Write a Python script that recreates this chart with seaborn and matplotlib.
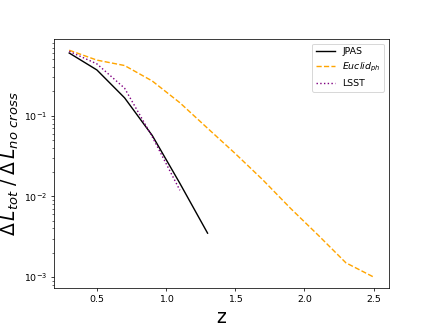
import numpy as np
import seaborn as sns
import matplotlib.pyplot as plt

# redshift bins
z_jpas = [0.3, 0.5, 0.7, 0.9, 1.1, 1.3]
z_euclid = [0.3, 0.5, 0.7, 0.9, 1.1, 1.3, 1.5, 1.7, 1.9, 2.1, 2.3, 2.5]
z_lsst = [0.3, 0.5, 0.7, 0.9, 1.1]

# ratio dL_tot / dL_no_cross
jpas = [0.60, 0.37, 0.167, 0.057, 0.0145, 0.0035]
euclid = [0.65, 0.49, 0.42, 0.27, 0.145, 0.07, 0.034, 0.016, 0.0071, 0.0033, 0.0015, 0.001]
lsst = [0.63, 0.44, 0.22, 0.055, 0.0119]

fig, ax = plt.subplots(figsize=(6.4, 4.8), dpi=67.5)

sns.lineplot(x=z_jpas, y=jpas, color="black", label="JPAS", ax=ax)
sns.lineplot(x=z_euclid, y=euclid, color="orange", linestyle="--",
             label=r"$Euclid_{ph}$", ax=ax)
sns.lineplot(x=z_lsst, y=lsst, color="purple", linestyle=":",
             label="LSST", ax=ax)

ax.set_yscale("log")
ax.set_xlabel("z", fontsize=20)
ax.set_ylabel(r"$\Delta\,L_{tot}\;/\;\Delta\,L_{no\ cross}$", fontsize=20)
ax.legend(loc="upper right")

fig.savefig("out.png", dpi=67.5)
